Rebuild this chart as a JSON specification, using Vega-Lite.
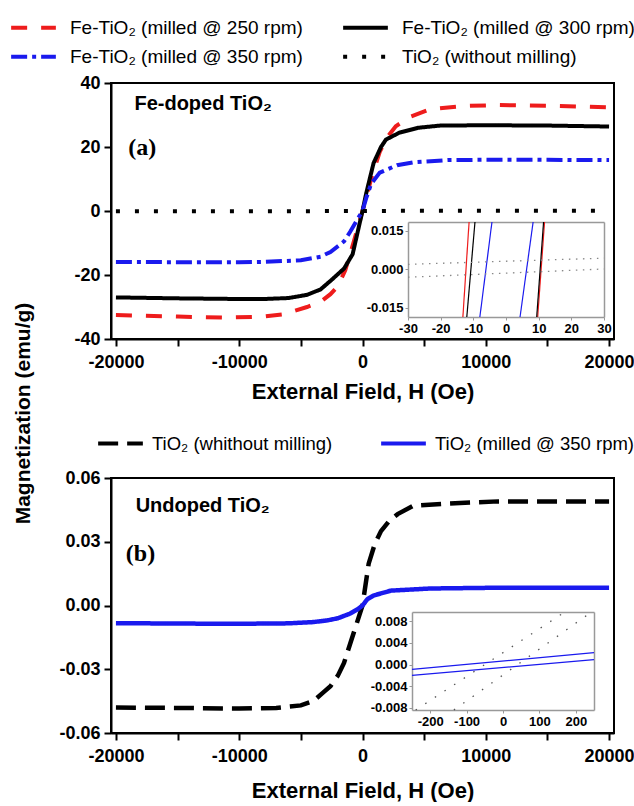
{
  "$schema": "https://vega.github.io/schema/vega-lite/v6.json",
  "padding": {"left": 8, "top": 2, "right": 0, "bottom": 0},
  "datasets": {
    "a_main": [
      {"sample": "Fe-TiO₂ (milled @ 250 rpm)", "H": -20000, "M": -32.5},
      {"sample": "Fe-TiO₂ (milled @ 250 rpm)", "H": -15000, "M": -33.0},
      {"sample": "Fe-TiO₂ (milled @ 250 rpm)", "H": -11000, "M": -33.3},
      {"sample": "Fe-TiO₂ (milled @ 250 rpm)", "H": -8000, "M": -33.0},
      {"sample": "Fe-TiO₂ (milled @ 250 rpm)", "H": -6500, "M": -32.3},
      {"sample": "Fe-TiO₂ (milled @ 250 rpm)", "H": -5600, "M": -31.3},
      {"sample": "Fe-TiO₂ (milled @ 250 rpm)", "H": -4500, "M": -30.0},
      {"sample": "Fe-TiO₂ (milled @ 250 rpm)", "H": -3400, "M": -28.4},
      {"sample": "Fe-TiO₂ (milled @ 250 rpm)", "H": -2600, "M": -26.0},
      {"sample": "Fe-TiO₂ (milled @ 250 rpm)", "H": -2000, "M": -23.5},
      {"sample": "Fe-TiO₂ (milled @ 250 rpm)", "H": -1400, "M": -18.5},
      {"sample": "Fe-TiO₂ (milled @ 250 rpm)", "H": -700, "M": -9.5},
      {"sample": "Fe-TiO₂ (milled @ 250 rpm)", "H": 0, "M": 0},
      {"sample": "Fe-TiO₂ (milled @ 250 rpm)", "H": 700, "M": 10},
      {"sample": "Fe-TiO₂ (milled @ 250 rpm)", "H": 1400, "M": 18.5},
      {"sample": "Fe-TiO₂ (milled @ 250 rpm)", "H": 2000, "M": 23},
      {"sample": "Fe-TiO₂ (milled @ 250 rpm)", "H": 2700, "M": 26.5},
      {"sample": "Fe-TiO₂ (milled @ 250 rpm)", "H": 3900, "M": 29.5},
      {"sample": "Fe-TiO₂ (milled @ 250 rpm)", "H": 5500, "M": 31.8},
      {"sample": "Fe-TiO₂ (milled @ 250 rpm)", "H": 8200, "M": 32.8},
      {"sample": "Fe-TiO₂ (milled @ 250 rpm)", "H": 11000, "M": 33.1},
      {"sample": "Fe-TiO₂ (milled @ 250 rpm)", "H": 15000, "M": 32.9},
      {"sample": "Fe-TiO₂ (milled @ 250 rpm)", "H": 20000, "M": 32.4},
      {"sample": "Fe-TiO₂ (milled @ 300 rpm)", "H": -20000, "M": -27.0},
      {"sample": "Fe-TiO₂ (milled @ 300 rpm)", "H": -15000, "M": -27.3},
      {"sample": "Fe-TiO₂ (milled @ 300 rpm)", "H": -10000, "M": -27.5},
      {"sample": "Fe-TiO₂ (milled @ 300 rpm)", "H": -8000, "M": -27.5},
      {"sample": "Fe-TiO₂ (milled @ 300 rpm)", "H": -6000, "M": -27.2},
      {"sample": "Fe-TiO₂ (milled @ 300 rpm)", "H": -4500, "M": -26.2},
      {"sample": "Fe-TiO₂ (milled @ 300 rpm)", "H": -3400, "M": -24.5},
      {"sample": "Fe-TiO₂ (milled @ 300 rpm)", "H": -2500, "M": -21.5},
      {"sample": "Fe-TiO₂ (milled @ 300 rpm)", "H": -1500, "M": -18.0},
      {"sample": "Fe-TiO₂ (milled @ 300 rpm)", "H": -800, "M": -13.5},
      {"sample": "Fe-TiO₂ (milled @ 300 rpm)", "H": -300, "M": -5},
      {"sample": "Fe-TiO₂ (milled @ 300 rpm)", "H": 0, "M": 0},
      {"sample": "Fe-TiO₂ (milled @ 300 rpm)", "H": 300, "M": 5.5},
      {"sample": "Fe-TiO₂ (milled @ 300 rpm)", "H": 900, "M": 15},
      {"sample": "Fe-TiO₂ (milled @ 300 rpm)", "H": 1500, "M": 20},
      {"sample": "Fe-TiO₂ (milled @ 300 rpm)", "H": 1900, "M": 22.3},
      {"sample": "Fe-TiO₂ (milled @ 300 rpm)", "H": 3000, "M": 24.5},
      {"sample": "Fe-TiO₂ (milled @ 300 rpm)", "H": 4500, "M": 26.0},
      {"sample": "Fe-TiO₂ (milled @ 300 rpm)", "H": 6300, "M": 26.7},
      {"sample": "Fe-TiO₂ (milled @ 300 rpm)", "H": 10000, "M": 26.8},
      {"sample": "Fe-TiO₂ (milled @ 300 rpm)", "H": 15000, "M": 26.7},
      {"sample": "Fe-TiO₂ (milled @ 300 rpm)", "H": 20000, "M": 26.4},
      {"sample": "Fe-TiO₂ (milled @ 350 rpm)", "H": -20000, "M": -15.9},
      {"sample": "Fe-TiO₂ (milled @ 350 rpm)", "H": -15000, "M": -16.0},
      {"sample": "Fe-TiO₂ (milled @ 350 rpm)", "H": -10000, "M": -16.0},
      {"sample": "Fe-TiO₂ (milled @ 350 rpm)", "H": -8000, "M": -15.9},
      {"sample": "Fe-TiO₂ (milled @ 350 rpm)", "H": -5000, "M": -15.4},
      {"sample": "Fe-TiO₂ (milled @ 350 rpm)", "H": -3400, "M": -14.3},
      {"sample": "Fe-TiO₂ (milled @ 350 rpm)", "H": -2600, "M": -12.8},
      {"sample": "Fe-TiO₂ (milled @ 350 rpm)", "H": -1500, "M": -9.5},
      {"sample": "Fe-TiO₂ (milled @ 350 rpm)", "H": -1000, "M": -6.5},
      {"sample": "Fe-TiO₂ (milled @ 350 rpm)", "H": -400, "M": -2.5},
      {"sample": "Fe-TiO₂ (milled @ 350 rpm)", "H": 0, "M": 0},
      {"sample": "Fe-TiO₂ (milled @ 350 rpm)", "H": 300, "M": 4},
      {"sample": "Fe-TiO₂ (milled @ 350 rpm)", "H": 700, "M": 8.5},
      {"sample": "Fe-TiO₂ (milled @ 350 rpm)", "H": 1400, "M": 12},
      {"sample": "Fe-TiO₂ (milled @ 350 rpm)", "H": 2800, "M": 14.3},
      {"sample": "Fe-TiO₂ (milled @ 350 rpm)", "H": 4100, "M": 15.2},
      {"sample": "Fe-TiO₂ (milled @ 350 rpm)", "H": 6900, "M": 15.9},
      {"sample": "Fe-TiO₂ (milled @ 350 rpm)", "H": 10000, "M": 16.0},
      {"sample": "Fe-TiO₂ (milled @ 350 rpm)", "H": 15000, "M": 16.0},
      {"sample": "Fe-TiO₂ (milled @ 350 rpm)", "H": 20000, "M": 15.9},
      {"sample": "TiO₂ (without milling)", "H": -20000, "M": -0.048},
      {"sample": "TiO₂ (without milling)", "H": -5000, "M": -0.047},
      {"sample": "TiO₂ (without milling)", "H": -2000, "M": -0.033},
      {"sample": "TiO₂ (without milling)", "H": 0, "M": 0},
      {"sample": "TiO₂ (without milling)", "H": 2000, "M": 0.04},
      {"sample": "TiO₂ (without milling)", "H": 5000, "M": 0.047},
      {"sample": "TiO₂ (without milling)", "H": 20000, "M": 0.049}
    ],
    "a_inset": [
      {"sample": "Fe-TiO₂ (milled @ 250 rpm)", "branch": "up", "H": -13.2, "M": -0.0185},
      {"sample": "Fe-TiO₂ (milled @ 250 rpm)", "branch": "up", "H": -11.3, "M": 0.0183},
      {"sample": "Fe-TiO₂ (milled @ 250 rpm)", "branch": "down", "H": 9.7, "M": -0.0185},
      {"sample": "Fe-TiO₂ (milled @ 250 rpm)", "branch": "down", "H": 11.8, "M": 0.0183},
      {"sample": "Fe-TiO₂ (milled @ 300 rpm)", "branch": "up", "H": -12.0, "M": -0.0185},
      {"sample": "Fe-TiO₂ (milled @ 300 rpm)", "branch": "up", "H": -9.5, "M": 0.0183},
      {"sample": "Fe-TiO₂ (milled @ 300 rpm)", "branch": "down", "H": 9.4, "M": -0.0185},
      {"sample": "Fe-TiO₂ (milled @ 300 rpm)", "branch": "down", "H": 11.5, "M": 0.0183},
      {"sample": "Fe-TiO₂ (milled @ 350 rpm)", "branch": "up", "H": -8.0, "M": -0.0185},
      {"sample": "Fe-TiO₂ (milled @ 350 rpm)", "branch": "up", "H": -4.3, "M": 0.0183},
      {"sample": "Fe-TiO₂ (milled @ 350 rpm)", "branch": "down", "H": 4.3, "M": -0.0185},
      {"sample": "Fe-TiO₂ (milled @ 350 rpm)", "branch": "down", "H": 8.3, "M": 0.0183}
    ],
    "a_inset_tio2": [
      {"branch": "up", "H": -30, "M": 0.0019},
      {"branch": "up", "H": 30, "M": 0.0043},
      {"branch": "down", "H": -30, "M": -0.0031},
      {"branch": "down", "H": 30, "M": 0.0001}
    ],
    "b_main": [
      {"sample": "TiO₂ (whithout milling)", "H": -20000, "M": -0.048},
      {"sample": "TiO₂ (whithout milling)", "H": -15000, "M": -0.0482},
      {"sample": "TiO₂ (whithout milling)", "H": -10000, "M": -0.0485},
      {"sample": "TiO₂ (whithout milling)", "H": -7000, "M": -0.0482},
      {"sample": "TiO₂ (whithout milling)", "H": -5000, "M": -0.047},
      {"sample": "TiO₂ (whithout milling)", "H": -4000, "M": -0.045},
      {"sample": "TiO₂ (whithout milling)", "H": -3200, "M": -0.041},
      {"sample": "TiO₂ (whithout milling)", "H": -2600, "M": -0.038},
      {"sample": "TiO₂ (whithout milling)", "H": -2000, "M": -0.033},
      {"sample": "TiO₂ (whithout milling)", "H": -1500, "M": -0.027},
      {"sample": "TiO₂ (whithout milling)", "H": -1000, "M": -0.018},
      {"sample": "TiO₂ (whithout milling)", "H": -500, "M": -0.009},
      {"sample": "TiO₂ (whithout milling)", "H": 0, "M": 0},
      {"sample": "TiO₂ (whithout milling)", "H": 500, "M": 0.0197},
      {"sample": "TiO₂ (whithout milling)", "H": 1000, "M": 0.029},
      {"sample": "TiO₂ (whithout milling)", "H": 1500, "M": 0.035},
      {"sample": "TiO₂ (whithout milling)", "H": 2200, "M": 0.040},
      {"sample": "TiO₂ (whithout milling)", "H": 2850, "M": 0.043},
      {"sample": "TiO₂ (whithout milling)", "H": 4150, "M": 0.047},
      {"sample": "TiO₂ (whithout milling)", "H": 6900, "M": 0.048},
      {"sample": "TiO₂ (whithout milling)", "H": 11000, "M": 0.049},
      {"sample": "TiO₂ (whithout milling)", "H": 15000, "M": 0.049},
      {"sample": "TiO₂ (whithout milling)", "H": 20000, "M": 0.049},
      {"sample": "TiO₂ (milled @ 350 rpm)", "H": -20000, "M": -0.0083},
      {"sample": "TiO₂ (milled @ 350 rpm)", "H": -15000, "M": -0.0085},
      {"sample": "TiO₂ (milled @ 350 rpm)", "H": -10000, "M": -0.0086},
      {"sample": "TiO₂ (milled @ 350 rpm)", "H": -6000, "M": -0.0084},
      {"sample": "TiO₂ (milled @ 350 rpm)", "H": -4000, "M": -0.0078},
      {"sample": "TiO₂ (milled @ 350 rpm)", "H": -2850, "M": -0.0070},
      {"sample": "TiO₂ (milled @ 350 rpm)", "H": -2000, "M": -0.0060},
      {"sample": "TiO₂ (milled @ 350 rpm)", "H": -1000, "M": -0.0038},
      {"sample": "TiO₂ (milled @ 350 rpm)", "H": -400, "M": -0.0018},
      {"sample": "TiO₂ (milled @ 350 rpm)", "H": 0, "M": 0},
      {"sample": "TiO₂ (milled @ 350 rpm)", "H": 400, "M": 0.0030},
      {"sample": "TiO₂ (milled @ 350 rpm)", "H": 900, "M": 0.0047},
      {"sample": "TiO₂ (milled @ 350 rpm)", "H": 2300, "M": 0.0070},
      {"sample": "TiO₂ (milled @ 350 rpm)", "H": 5500, "M": 0.0080},
      {"sample": "TiO₂ (milled @ 350 rpm)", "H": 10000, "M": 0.0083},
      {"sample": "TiO₂ (milled @ 350 rpm)", "H": 20000, "M": 0.0084}
    ],
    "b_inset": [
      {"branch": "up", "H": -250, "M": -0.0009},
      {"branch": "up", "H": 250, "M": 0.0022},
      {"branch": "down", "H": -250, "M": -0.0020},
      {"branch": "down", "H": 250, "M": 0.0009}
    ],
    "b_inset_tio2": [
      {"branch": "up", "H": -240, "M": -0.0084},
      {"branch": "up", "H": 170, "M": 0.0097},
      {"branch": "down", "H": -135, "M": -0.0084},
      {"branch": "down", "H": 243, "M": 0.0097}
    ],
    "one": [{}]
  },
  "vconcat": [
    {
      "width": 503,
      "height": 256,
      "layer": [
        {
          "layer": [
            {"mark": {"type": "rule", "color": "black", "strokeWidth": 1.5}, "encoding": {"y": {"datum": 0}}},
            {"mark": {"type": "rule", "color": "black", "strokeWidth": 1.5}, "encoding": {"x": {"datum": 0}}},
            {
              "data": {"name": "a_main"},
              "transform": [{"filter": {"field": "sample", "oneOf": ["Fe-TiO₂ (milled @ 250 rpm)", "Fe-TiO₂ (milled @ 300 rpm)"]}}],
              "mark": {"type": "line", "strokeWidth": 4},
              "encoding": {
                "x": {"field": "H", "type": "quantitative", "scale": {"domain": [-20400, 20400], "nice": false, "zero": false},
                  "axis": {"title": "External Field, H (Oe)", "values": [-20000, -15000, -10000, -5000, 0, 5000, 10000, 15000, 20000], "labelExpr": "datum.value % 10000 === 0 ? '' + datum.value : ''", "titlePadding": 10}},
                "y": {"field": "M", "type": "quantitative", "scale": {"domain": [-40, 40], "nice": false},
                  "axis": {"title": "Magnetization (emu/g)", "titleX": -88, "titleY": 330, "titleAngle": -90, "titleAlign": "center", "titleBaseline": "middle", "titleFontSize": 21, "labelPadding": 4, "values": [-40, -30, -20, -10, 0, 10, 20, 30, 40], "labelExpr": "datum.value % 20 === 0 ? '' + datum.value : ''"}},
                "color": {"field": "sample", "type": "nominal",
                  "scale": {"domain": ["Fe-TiO₂ (milled @ 250 rpm)", "Fe-TiO₂ (milled @ 300 rpm)"], "range": ["#ee1c1c", "#000000"]},
                  "legend": {"title": null, "orient": "none", "direction": "horizontal", "legendX": -102, "legendY": -80, "columnPadding": 32, "symbolType": "stroke", "symbolSize": 2000, "symbolStrokeWidth": 4, "labelFontSize": 19, "labelOffset": 12, "labelLimit": 400}},
                "strokeDash": {"field": "sample", "type": "nominal",
                  "scale": {"domain": ["Fe-TiO₂ (milled @ 250 rpm)", "Fe-TiO₂ (milled @ 300 rpm)"], "range": [[16, 14], [1, 0]]},
                  "legend": {"title": null}}
              }
            },
            {
              "data": {"name": "a_main"},
              "transform": [{"filter": {"field": "sample", "oneOf": ["Fe-TiO₂ (milled @ 350 rpm)", "TiO₂ (without milling)"]}}],
              "mark": {"type": "line", "strokeWidth": 4},
              "encoding": {
                "x": {"field": "H", "type": "quantitative"},
                "y": {"field": "M", "type": "quantitative"},
                "color": {"field": "sample", "type": "nominal",
                  "scale": {"domain": ["Fe-TiO₂ (milled @ 350 rpm)", "TiO₂ (without milling)"], "range": ["#1a1aee", "#000000"]},
                  "legend": {"title": null, "orient": "none", "direction": "horizontal", "legendX": -102, "legendY": -51, "columnPadding": 32, "symbolType": "stroke", "symbolSize": 2000, "symbolStrokeWidth": 4, "labelFontSize": 19, "labelOffset": 12, "labelLimit": 400}},
                "strokeDash": {"field": "sample", "type": "nominal",
                  "scale": {"domain": ["Fe-TiO₂ (milled @ 350 rpm)", "TiO₂ (without milling)"], "range": [[16, 5, 4, 5], [4, 15]]},
                  "legend": {"title": null}}
              }
            },
            {"data": {"name": "one"}, "mark": {"type": "text", "text": "Fe-doped TiO₂", "align": "left", "baseline": "middle", "font": "Liberation Sans", "fontWeight": "bold", "fontSize": 20, "color": "black"},
              "encoding": {"x": {"datum": -18500, "type": "quantitative"}, "y": {"datum": 33.3, "type": "quantitative"}}},
            {"data": {"name": "one"}, "mark": {"type": "text", "text": "(a)", "align": "left", "baseline": "middle", "font": "Liberation Serif", "fontWeight": "bold", "fontSize": 24, "color": "black"},
              "encoding": {"x": {"datum": -19000, "type": "quantitative"}, "y": {"datum": 19.7, "type": "quantitative"}}}
          ],
          "resolve": {"scale": {"color": "independent", "strokeDash": "independent"}, "legend": {"color": "independent", "strokeDash": "independent"}}
        },
        {
          "layer": [
            {
              "data": {"name": "a_inset"},
              "transform": [{"filter": {"field": "sample", "equal": "Fe-TiO₂ (milled @ 250 rpm)"}}],
              "mark": {"type": "line", "strokeWidth": 1.2, "color": "#ee1c1c"},
              "encoding": {
                "x": {"field": "H", "type": "quantitative", "scale": {"domain": [-30, 30], "range": [297, 493], "nice": false, "zero": false},
                  "axis": {"orient": "bottom", "offset": -22, "title": null, "values": [-30, -20, -10, 0, 10, 20, 30], "labelExpr": "'' + datum.value", "domainColor": "#999", "domainWidth": 1.5, "tickColor": "#999", "tickWidth": 1, "tickSize": 3, "labelFontSize": 13, "labelPadding": 2}},
                "y": {"field": "M", "type": "quantitative", "scale": {"domain": [-0.0185, 0.0183], "range": [234, 139], "nice": false, "zero": false},
                  "axis": {"orient": "left", "offset": -297, "title": null, "values": [-0.015, 0, 0.015], "labelExpr": "(datum.value < 0 ? '-' : '') + format(abs(datum.value), '.3f')", "domainColor": "#999", "domainWidth": 1.5, "tickColor": "#999", "tickWidth": 1, "tickSize": 3, "labelFontSize": 13, "labelPadding": 2}},
                "detail": {"field": "branch", "type": "nominal"}
              }
            },
            {
              "data": {"name": "a_inset"},
              "transform": [{"filter": {"field": "sample", "equal": "Fe-TiO₂ (milled @ 300 rpm)"}}],
              "mark": {"type": "line", "strokeWidth": 1.2, "color": "#000000"},
              "encoding": {
                "x": {"field": "H", "type": "quantitative", "axis": null},
                "y": {"field": "M", "type": "quantitative", "axis": null},
                "detail": {"field": "branch", "type": "nominal"}
              }
            },
            {
              "data": {"name": "a_inset"},
              "transform": [{"filter": {"field": "sample", "equal": "Fe-TiO₂ (milled @ 350 rpm)"}}],
              "mark": {"type": "line", "strokeWidth": 1.2, "color": "#1a1aee"},
              "encoding": {
                "x": {"field": "H", "type": "quantitative", "axis": null},
                "y": {"field": "M", "type": "quantitative", "axis": null},
                "detail": {"field": "branch", "type": "nominal"}
              }
            },
            {
              "data": {"name": "a_inset_tio2"},
              "mark": {"type": "line", "strokeWidth": 1.3, "color": "#888", "strokeDash": [1.5, 5.5]},
              "encoding": {
                "x": {"field": "H", "type": "quantitative",
                  "axis": {"orient": "top", "offset": -139, "title": null, "labels": false, "ticks": false, "domainColor": "#999", "domainWidth": 1.5}},
                "y": {"field": "M", "type": "quantitative",
                  "axis": {"orient": "right", "offset": -10, "title": null, "labels": false, "ticks": false, "domainColor": "#999", "domainWidth": 1.5}},
                "detail": {"field": "branch", "type": "nominal"}
              }
            },
            {"mark": {"type": "rule", "color": "#888", "strokeWidth": 1},
              "encoding": {"x": {"datum": 0, "axis": null}, "y": {"datum": -0.0185, "axis": null}, "y2": {"datum": 0.0183}}},
            {"mark": {"type": "rule", "color": "#888", "strokeWidth": 1},
              "encoding": {"y": {"datum": 0, "axis": null}, "x": {"datum": -30, "axis": null}, "x2": {"datum": 30}}}
          ],
          "resolve": {"axis": {"x": "independent", "y": "independent"}}
        }
      ],
      "resolve": {"scale": {"x": "independent", "y": "independent"}}
    },
    {
      "width": 503,
      "height": 255,
      "layer": [
        {
          "layer": [
            {"mark": {"type": "rule", "color": "black", "strokeWidth": 1.5}, "encoding": {"y": {"datum": 0}}},
            {"mark": {"type": "rule", "color": "black", "strokeWidth": 1.5}, "encoding": {"x": {"datum": 0}}},
            {
              "data": {"name": "b_main"},
              "mark": {"type": "line", "strokeWidth": 4.5},
              "encoding": {
                "x": {"field": "H", "type": "quantitative", "scale": {"domain": [-20400, 20400], "nice": false, "zero": false},
                  "axis": {"title": "External Field, H (Oe)", "values": [-20000, -15000, -10000, -5000, 0, 5000, 10000, 15000, 20000], "labelExpr": "datum.value % 10000 === 0 ? '' + datum.value : ''", "titlePadding": 15}},
                "y": {"field": "M", "type": "quantitative", "scale": {"domain": [-0.06, 0.06], "nice": false},
                  "axis": {"title": null, "labelPadding": 4, "values": [-0.06, -0.045, -0.03, -0.015, 0, 0.015, 0.03, 0.045, 0.06], "labelExpr": "abs(round(datum.value / 0.015)) % 2 === 0 ? (datum.value < 0 ? '-' : '') + format(abs(datum.value), '.2f') : ''"}},
                "color": {"field": "sample", "type": "nominal",
                  "scale": {"domain": ["TiO₂ (whithout milling)", "TiO₂ (milled @ 350 rpm)"], "range": ["#000000", "#1a1aee"]},
                  "legend": {"title": null, "orient": "none", "direction": "horizontal", "legendX": -15, "legendY": -59, "columnPadding": 40, "symbolType": "stroke", "symbolSize": 2000, "symbolStrokeWidth": 4, "labelFontSize": 18.5, "labelOffset": 7, "labelLimit": 400}},
                "strokeDash": {"field": "sample", "type": "nominal",
                  "scale": {"domain": ["TiO₂ (whithout milling)", "TiO₂ (milled @ 350 rpm)"], "range": [[20, 9], [1, 0]]},
                  "legend": {"title": null}}
              }
            },
            {"data": {"name": "one"}, "mark": {"type": "text", "text": "Undoped TiO₂", "align": "left", "baseline": "middle", "font": "Liberation Sans", "fontWeight": "bold", "fontSize": 20, "color": "black"},
              "encoding": {"x": {"datum": -18400, "type": "quantitative"}, "y": {"datum": 0.0469, "type": "quantitative"}}},
            {"data": {"name": "one"}, "mark": {"type": "text", "text": "(b)", "align": "left", "baseline": "middle", "font": "Liberation Serif", "fontWeight": "bold", "fontSize": 24, "color": "black"},
              "encoding": {"x": {"datum": -19200, "type": "quantitative"}, "y": {"datum": 0.0244, "type": "quantitative"}}}
          ]
        },
        {
          "layer": [
            {
              "data": {"name": "b_inset"},
              "mark": {"type": "line", "strokeWidth": 1.2, "color": "#1a1aee"},
              "encoding": {
                "x": {"field": "H", "type": "quantitative", "scale": {"domain": [-250, 250], "range": [301, 483], "nice": false, "zero": false},
                  "axis": {"orient": "bottom", "offset": -23, "title": null, "values": [-200, -100, 0, 100, 200], "labelExpr": "'' + datum.value", "domainColor": "#999", "domainWidth": 1.5, "tickColor": "#999", "tickWidth": 1, "tickSize": 3, "labelFontSize": 13, "labelPadding": 2}},
                "y": {"field": "M", "type": "quantitative", "scale": {"domain": [-0.0084, 0.0097], "range": [232, 134], "nice": false, "zero": false},
                  "axis": {"orient": "left", "offset": -301, "title": null, "values": [-0.008, -0.004, 0, 0.004, 0.008], "labelExpr": "(datum.value < 0 ? '-' : '') + format(abs(datum.value), '.3f')", "domainColor": "#999", "domainWidth": 1.5, "tickColor": "#999", "tickWidth": 1, "tickSize": 3, "labelFontSize": 13, "labelPadding": 2}},
                "detail": {"field": "branch", "type": "nominal"}
              }
            },
            {
              "data": {"name": "b_inset_tio2"},
              "mark": {"type": "line", "strokeWidth": 1.3, "color": "#555", "strokeDash": [1.5, 10]},
              "encoding": {
                "x": {"field": "H", "type": "quantitative",
                  "axis": {"orient": "top", "offset": -134, "title": null, "labels": false, "ticks": false, "domainColor": "#999", "domainWidth": 1.5}},
                "y": {"field": "M", "type": "quantitative",
                  "axis": {"orient": "right", "offset": -20, "title": null, "labels": false, "ticks": false, "domainColor": "#999", "domainWidth": 1.5}},
                "detail": {"field": "branch", "type": "nominal"}
              }
            },
            {"mark": {"type": "rule", "color": "#888", "strokeWidth": 1},
              "encoding": {"x": {"datum": 0, "axis": null}, "y": {"datum": -0.0084, "axis": null}, "y2": {"datum": 0.0097}}},
            {"mark": {"type": "rule", "color": "#888", "strokeWidth": 1},
              "encoding": {"y": {"datum": 0, "axis": null}, "x": {"datum": -250, "axis": null}, "x2": {"datum": 250}}}
          ],
          "resolve": {"axis": {"x": "independent", "y": "independent"}}
        }
      ],
      "resolve": {"scale": {"x": "independent", "y": "independent"}}
    }
  ],
  "spacing": 139,
  "bounds": "flush",
  "resolve": {"scale": {"color": "independent", "strokeDash": "independent"}, "legend": {"color": "independent", "strokeDash": "independent"}},
  "config": {
    "view": {"stroke": "black", "strokeWidth": 2},
    "font": "Liberation Sans",
    "axis": {"domainColor": "black", "domainWidth": 2, "tickColor": "black", "tickWidth": 2, "tickSize": 7, "labelFont": "Liberation Sans", "labelFontSize": 18, "labelFontWeight": "bold", "labelColor": "black", "labelPadding": 7, "titleFont": "Liberation Sans", "titleFontSize": 22, "titleFontWeight": "bold", "titleColor": "black", "grid": false, "labelFlush": false, "labelOverlap": false},
    "legend": {"labelFont": "Liberation Sans", "labelColor": "black"}
  }
}
